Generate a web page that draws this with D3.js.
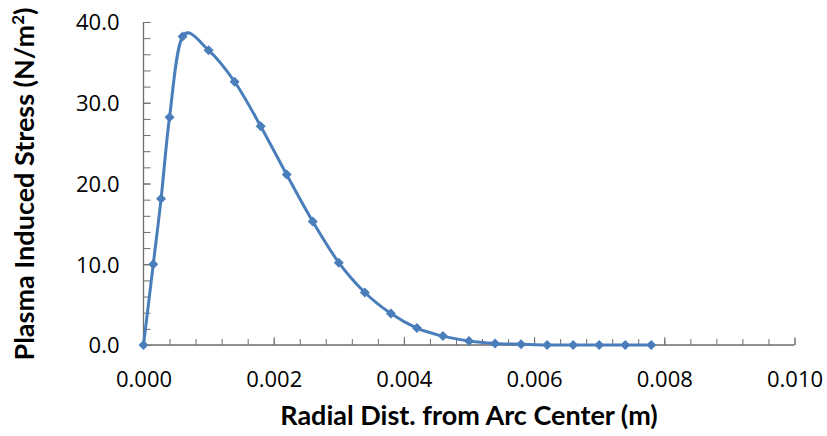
<!DOCTYPE html>
<html lang="en">
<head>
<meta charset="UTF-8">
<title>Plasma Induced Stress</title>
<style>
    body { margin: 0; background: #fff; }
    #chart { width: 827px; height: 436px; }
    #chart text { fill: #000; }
    #chart .tick text { font-family: "Open Sans", sans-serif; }
    #chart .title { font-family: Lato, "Open Sans", sans-serif; font-weight: bold; }
</style>
</head>
<body>
<div id="chart"></div>
<script src="https://cdn.jsdelivr.net/npm/d3@7"></script>
<script>
    // radial distance (m) and stress (N/m^2)
    var radialDist = [0, 0.00015, 0.00027, 0.0004, 0.0006, 0.001, 0.0014, 0.0018, 0.0022, 0.0026,
        0.003, 0.0034, 0.0038, 0.0042, 0.0046, 0.005, 0.0054, 0.0058, 0.0062, 0.0066,
        0.007, 0.0074, 0.0078];
    var stress = [0, 10.0, 18.1, 28.2, 38.2, 36.5, 32.6, 27.1, 21.1, 15.3,
        10.2, 6.5, 3.9, 2.1, 1.1, 0.5, 0.2, 0.1, 0.0, 0.0,
        0.0, 0.0, 0.0];
    var xTicks = [0, 0.002, 0.004, 0.006, 0.008, 0.010];
    var yTicks = [0, 10, 20, 30, 40];
    var xTitle = "Radial Dist. from Arc Center (m)";
    var yTitle = "Plasma Induced Stress (N/m";

    var W = 827, H = 436;
    var mLeft = 143.5, mRight = 794.5, mTop = 22, mBottom = 345;
    var blue = "#4a7ebb", axisCol = "#6d6d6d";

    var svg = d3.select("#chart").append("svg")
        .attr("width", W).attr("height", H);

    var x = d3.scaleLinear().domain([0, 0.010]).range([mLeft, mRight]);
    var y = d3.scaleLinear().domain([0, 40]).range([mBottom, mTop]);

    // minor ticks
    var xMinor = d3.range(0, 0.0101, 0.0004);
    var yMinor = d3.range(0, 40.1, 2);

    svg.append("g")
        .attr("transform", "translate(0," + mBottom + ")")
        .call(d3.axisBottom(x).tickValues(xMinor).tickSize(-6).tickFormat(""))
        .call(function (g) { g.select(".domain").remove(); })
        .selectAll("line").attr("stroke", axisCol);

    svg.append("g")
        .attr("transform", "translate(" + mLeft + ",0)")
        .call(d3.axisLeft(y).tickValues(yMinor).tickSize(-7).tickFormat(""))
        .call(function (g) { g.select(".domain").remove(); })
        .selectAll("line").attr("stroke", axisCol);

    // major ticks + labels
    var xAxis = svg.append("g")
        .attr("transform", "translate(0," + mBottom + ")")
        .call(d3.axisBottom(x).tickValues(xTicks).tickSize(-8).tickPadding(42)
            .tickFormat(d3.format(".3f")));
    xAxis.select(".domain").remove();
    xAxis.selectAll("line").attr("stroke", axisCol);
    xAxis.selectAll("text").attr("font-size", "22px").attr("dy", "0").attr("fill", "#000");

    var yAxis = svg.append("g")
        .attr("transform", "translate(" + mLeft + ",0)")
        .call(d3.axisLeft(y).tickValues(yTicks).tickSize(-7).tickPadding(24)
            .tickFormat(d3.format(".1f")));
    yAxis.select(".domain").remove();
    yAxis.selectAll("line").attr("stroke", axisCol);
    yAxis.selectAll("text").attr("font-size", "22px").attr("dy", "0.36em").attr("fill", "#000");

    // axis lines
    svg.append("line")
        .attr("x1", mLeft).attr("x2", mRight).attr("y1", mBottom).attr("y2", mBottom)
        .attr("stroke", axisCol).attr("stroke-width", 1.3);
    svg.append("line")
        .attr("x1", mLeft).attr("x2", mLeft).attr("y1", mTop).attr("y2", mBottom)
        .attr("stroke", axisCol).attr("stroke-width", 1.3);

    // titles
    svg.append("text")
        .attr("class", "title")
        .attr("x", (mLeft + mRight) / 2).attr("y", 425)
        .attr("text-anchor", "middle")
        .attr("font-size", "27px")
        .text(xTitle);

    var yt = svg.append("text")
        .attr("class", "title")
        .attr("transform", "translate(34,184) rotate(-90)")
        .attr("text-anchor", "middle")
        .attr("font-size", "27px");
    yt.append("tspan").text(yTitle);
    yt.append("tspan").attr("font-size", "17px").attr("dy", "-10").text("2");
    yt.append("tspan").attr("dy", "10").text(")");

    // series
    var pts = radialDist.map(function (d, i) { return [d, stress[i]]; });

    var line = d3.line()
        .x(function (d) { return x(d[0]); })
        .y(function (d) { return y(d[1]); })
        .curve(d3.curveCardinal.tension(0));

    svg.append("path")
        .datum(pts)
        .attr("fill", "none")
        .attr("stroke", blue)
        .attr("stroke-width", 3)
        .attr("d", line);

    svg.selectAll("path.marker")
        .data(pts)
        .enter().append("path")
        .attr("class", "marker")
        .attr("transform", function (d) { return "translate(" + x(d[0]) + "," + y(d[1]) + ") rotate(45)"; })
        .attr("d", d3.symbol().type(d3.symbolSquare).size(50))
        .attr("fill", blue);
</script>
</body>
</html>
